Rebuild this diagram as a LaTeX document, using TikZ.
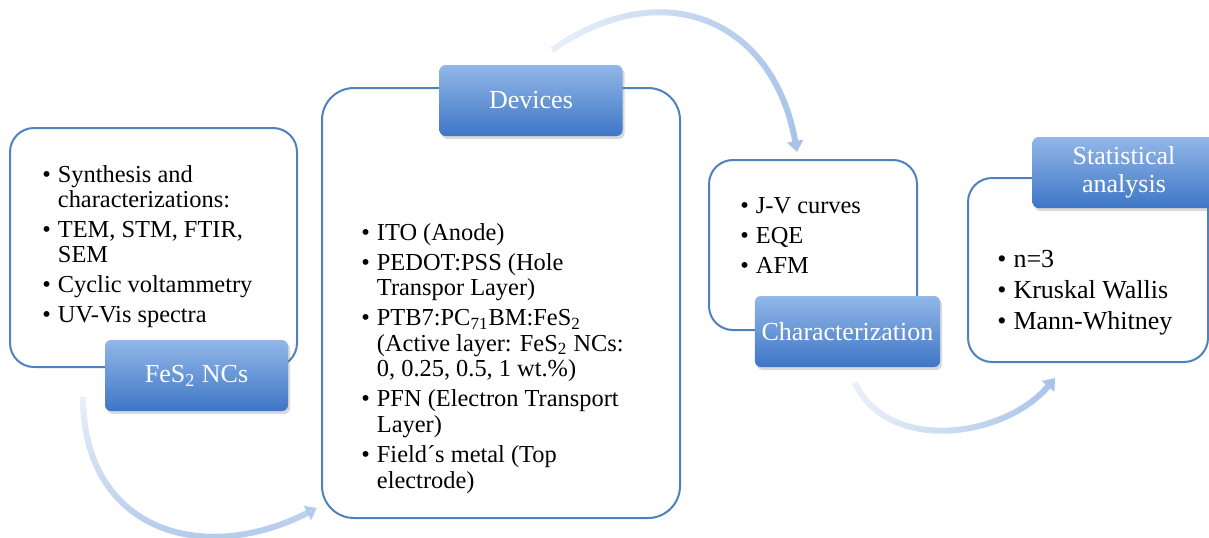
\documentclass[tikz,border=0pt]{standalone}
\usepackage{fontspec}
\setmainfont{Liberation Serif}
\usetikzlibrary{arrows.meta,shadows,fadings}
\definecolor{cardline}{RGB}{79,129,189}
\definecolor{tagtop}{RGB}{146,183,232}
\definecolor{tagbot}{RGB}{62,118,198}
\definecolor{flow}{RGB}{168,195,232}
\tikzfading[name=tailtop,top color=transparent!75,bottom color=transparent!0]
\tikzfading[name=tailleft,left color=transparent!75,right color=transparent!0]
\newcommand{\pts}[1]{\begin{tabular}[t]{@{}l@{\hspace{3.5pt}}l@{}}#1\end{tabular}}

\begin{document}
\begin{tikzpicture}[x=0.5pt,y=0.5pt,line join=round,
  card/.style={draw=cardline,line width=1pt,rounded corners=12pt,fill=white,inner sep=0pt},
  tag/.style={top color=tagtop,bottom color=tagbot,rounded corners=3pt,minimum width=91.5pt,
    minimum height=35.5pt,text=white,align=center,font=\fontsize{13}{14}\selectfont,
    drop shadow={opacity=0.3,shadow xshift=1pt,shadow yshift=-1.5pt}},
  items/.style={anchor=base west,inner sep=0pt,font=\fontsize{12.2}{12.8}\selectfont},
  flowarrow/.style={draw=flow,line width=3pt,-{Triangle[width=8pt,length=5.5pt]}}]
  \useasboundingbox (0,0) rectangle (1209,-537);
  % curved arrows between the stages
  \coordinate (a1s) at (83,-397);  \coordinate (a1e) at (317,-508);
  \coordinate (a2s) at (552,-50);  \coordinate (a2e) at (797,-152);
  \coordinate (a3s) at (855,-383); \coordinate (a3e) at (1055,-378);
  \draw[flowarrow,path fading=tailtop] (a1s) to[out=-90,in=207,looseness=1.3] (a1e);
  \draw[flowarrow,path fading=tailleft] (a2s) to[out=35,in=100,looseness=1.3] (a2e);
  \draw[flowarrow,path fading=tailleft] (a3s) to[out=-65,in=230] (a3e);
  % cards
  \node[card,minimum width=143.5pt,minimum height=119.5pt] (nccard) at (153.5,-247.5) {};
  \node[card,minimum width=179pt,minimum height=215pt,rounded corners=16pt] (devcard) at (501,-303) {};
  \node[card,minimum width=104pt,minimum height=85pt] (charcard) at (813,-245) {};
  \node[card,minimum width=120pt,minimum height=92pt] (statcard) at (1088,-270) {};
  % card contents
  \node[items] (nctext) at (42,-182) {\pts{%
    \textbullet & Synthesis and\\ & characterizations:\\[2pt]
    \textbullet & TEM, STM, FTIR,\\ & SEM\\[2pt]
    \textbullet & Cyclic voltammetry\\[2pt]
    \textbullet & UV-Vis spectra}};
  \node[items] (devtext) at (361,-240) {\pts{%
    \textbullet & ITO (Anode)\\[2.2pt]
    \textbullet & PEDOT:PSS (Hole\\ & Transpor Layer)\\[2.2pt]
    \textbullet & PTB7:PC\textsubscript{71}BM:FeS\textsubscript{2}\\ & (Active layer: FeS\textsubscript{2} NCs:\\ & 0, 0.25, 0.5, 1 wt.\%)\\[2.2pt]
    \textbullet & PFN (Electron Transport\\ & Layer)\\[2.2pt]
    \textbullet & Field´s metal (Top\\ & electrode)}};
  \node[items] (chartext) at (740,-213) {\pts{%
    \textbullet & J-V curves\\[2.2pt]
    \textbullet & EQE\\[2.2pt]
    \textbullet & AFM}};
  \node[items,font=\fontsize{13}{13}\selectfont] (stattext) at (997,-267) {\pts{%
    \textbullet & n=3\\[2.5pt]
    \textbullet & Kruskal Wallis\\[2.5pt]
    \textbullet & Mann-Whitney}};
  % stage labels
  \node[tag] (nctag) at (196.5,-375.5) {FeS\textsubscript{2} NCs};
  \node[tag] (devtag) at (531,-100.5) {Devices};
  \node[tag] (chartag) at (847.5,-331.5) {Characterization};
  \node[tag] (stattag) at (1124,-172.5) {Statistical\\analysis};
\end{tikzpicture}
\end{document}
